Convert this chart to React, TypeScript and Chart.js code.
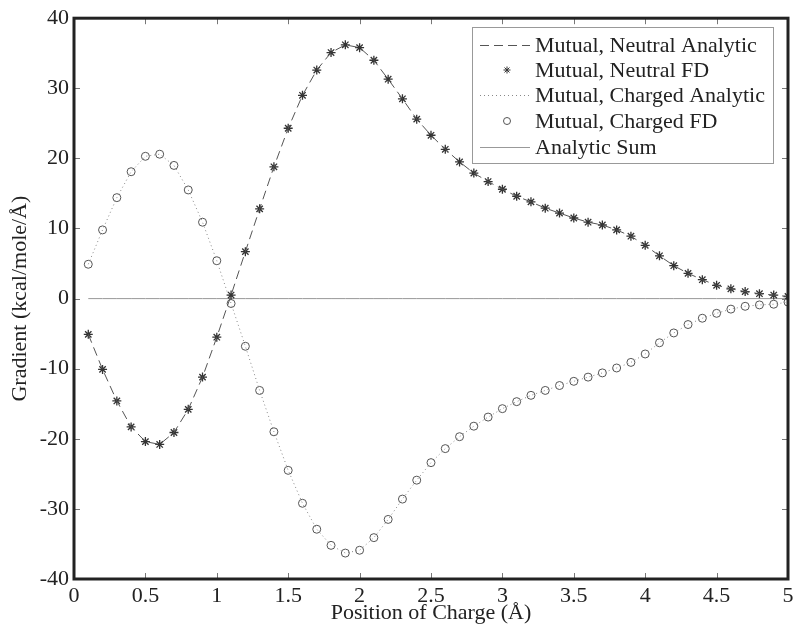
import React, { useEffect, useRef } from "react";
import { Chart, registerables } from "chart.js";

Chart.register(...registerables);

const positions = [
  0.1, 0.2, 0.3, 0.4, 0.5, 0.6, 0.7, 0.8, 0.9, 1.0,
  1.1, 1.2, 1.3, 1.4, 1.5, 1.6, 1.7, 1.8, 1.9, 2.0,
  2.1, 2.2, 2.3, 2.4, 2.5, 2.6, 2.7, 2.8, 2.9, 3.0,
  3.1, 3.2, 3.3, 3.4, 3.5, 3.6, 3.7, 3.8, 3.9, 4.0,
  4.1, 4.2, 4.3, 4.4, 4.5, 4.6, 4.7, 4.8, 4.9, 5.0,
];

const neutralFD = [
  -5.1, -10.1, -14.6, -18.3, -20.4, -20.8, -19.1, -15.8, -11.2, -5.5,
  0.5, 6.7, 12.8, 18.8, 24.3, 29.0, 32.6, 35.1, 36.2, 35.8,
  34.0, 31.3, 28.5, 25.6, 23.3, 21.3, 19.5, 17.9, 16.7, 15.6,
  14.6, 13.8, 12.9, 12.2, 11.5, 10.9, 10.5, 9.8, 8.9, 7.6,
  6.1, 4.7, 3.6, 2.7, 1.9, 1.4, 1.0, 0.7, 0.5, 0.3,
];

const chargedFD = [
  4.9, 9.8, 14.4, 18.1, 20.3, 20.6, 19.0, 15.5, 10.9, 5.4,
  -0.7, -6.8, -13.1, -19.0, -24.5, -29.2, -32.9, -35.2, -36.3, -35.9,
  -34.1, -31.5, -28.6, -25.9, -23.4, -21.4, -19.7, -18.2, -16.9, -15.7,
  -14.7, -13.8, -13.1, -12.4, -11.8, -11.2, -10.6, -9.9, -9.1, -7.9,
  -6.3, -4.9, -3.7, -2.8, -2.1, -1.5, -1.1, -0.9, -0.8, -0.5,
];

const neutralAnalytic = neutralFD;
const chargedAnalytic = chargedFD;
const analyticSum = [
  0, 0, 0, 0, 0, 0, 0, 0, 0, 0,
  0, 0, 0, 0, 0, 0, 0, 0, 0, 0,
  0, 0, 0, 0, 0, 0, 0, 0, 0, 0,
  0, 0, 0, 0, 0, 0, 0, 0, 0, 0,
  0, 0, 0, 0, 0, 0, 0, 0, 0, 0,
];

const seriesLabels = [
  "Mutual, Neutral Analytic",
  "Mutual, Neutral FD",
  "Mutual, Charged Analytic",
  "Mutual, Charged FD",
  "Analytic Sum",
];

const xTitle = "Position of Charge (Å)";
const yTitle = "Gradient (kcal/mole/Å)";

const FONT = "'Liberation Serif', 'DejaVu Serif', serif";
const TEXT = "#222";
const FS = 22;

const toPoints = (ys: number[]) => positions.map((x, i) => ({ x, y: ys[i] }));

const framePlugin = {
  id: "matlabFrame",
  afterDraw(chart: any) {
    const { ctx, chartArea } = chart;
    const { left, right, top, bottom } = chartArea;
    const xs = chart.scales.x;
    const ys = chart.scales.y;
    ctx.save();
    // ticks inward
    ctx.strokeStyle = "#777";
    ctx.lineWidth = 1;
    const tl = 6;
    xs.ticks.forEach((t: any) => {
      const px = Math.round(xs.getPixelForValue(t.value)) + 0.5;
      ctx.beginPath();
      ctx.moveTo(px, bottom);
      ctx.lineTo(px, bottom - tl);
      ctx.moveTo(px, top);
      ctx.lineTo(px, top + tl);
      ctx.stroke();
    });
    ys.ticks.forEach((t: any) => {
      const py = Math.round(ys.getPixelForValue(t.value)) + 0.5;
      ctx.beginPath();
      ctx.moveTo(left, py);
      ctx.lineTo(left + tl, py);
      ctx.moveTo(right, py);
      ctx.lineTo(right - tl, py);
      ctx.stroke();
    });
    // frame
    ctx.strokeStyle = "#222";
    ctx.lineWidth = 3;
    ctx.strokeRect(left, top, right - left, bottom - top);

    // legend
    const bx = 472, by = 27, bw = 301, bh = 136;
    ctx.fillStyle = "#fff";
    ctx.fillRect(bx, by, bw, bh);
    ctx.strokeStyle = "#999";
    ctx.lineWidth = 1;
    ctx.strokeRect(bx + 0.5, by + 0.5, bw, bh);
    const rows = [45, 70, 95, 121, 147];
    const ds = chart.data.datasets;
    ctx.font = `${FS}px ${FONT}`;
    ctx.textBaseline = "middle";
    ctx.textAlign = "left";
    rows.forEach((ry, i) => {
      const d = ds[i];
      if (d.showLine !== false) {
        ctx.save();
        ctx.strokeStyle = d.borderColor;
        ctx.lineWidth = d.borderWidth;
        ctx.setLineDash(d.borderDash || []);
        ctx.beginPath();
        ctx.moveTo(480, ry + 0.5);
        ctx.lineTo(530, ry + 0.5);
        ctx.stroke();
        ctx.restore();
      } else {
        ctx.save();
        ctx.strokeStyle = d.borderColor;
        ctx.lineWidth = 1;
        if (d.pointStyle === "star") {
          const r = 3.5;
          ctx.beginPath();
          for (let k = 0; k < 4; k++) {
            const a = (k * Math.PI) / 4;
            ctx.moveTo(507 - r * Math.cos(a), ry - r * Math.sin(a));
            ctx.lineTo(507 + r * Math.cos(a), ry + r * Math.sin(a));
          }
          ctx.stroke();
        } else {
          ctx.beginPath();
          ctx.arc(507, ry, 3.5, 0, Math.PI * 2);
          ctx.stroke();
        }
        ctx.restore();
      }
      ctx.fillStyle = TEXT;
      ctx.fillText(seriesLabels[i], 535, ry + 1);
    });
    ctx.restore();
  },
};

export default function App() {
  const ref = useRef<HTMLCanvasElement>(null);
  useEffect(() => {
    if (!ref.current) return;
    const chart = new Chart(ref.current, {
      type: "line",
      data: {
        datasets: [
          {
            label: seriesLabels[0],
            data: toPoints(neutralAnalytic),
            borderColor: "#555",
            borderWidth: 1,
            borderDash: [9, 5],
            pointRadius: 0,
            fill: false,
          },
          {
            label: seriesLabels[1],
            data: toPoints(neutralFD),
            showLine: false,
            pointStyle: "star",
            pointRadius: 4.5,
            borderColor: "#333",
            backgroundColor: "#333",
            pointBorderWidth: 1.3,
          },
          {
            label: seriesLabels[2],
            data: toPoints(chargedAnalytic),
            borderColor: "#888",
            borderWidth: 1,
            borderDash: [1, 3],
            pointRadius: 0,
            fill: false,
          },
          {
            label: seriesLabels[3],
            data: toPoints(chargedFD),
            showLine: false,
            pointStyle: "circle",
            pointRadius: 4,
            borderColor: "#555",
            backgroundColor: "rgba(0,0,0,0)",
            pointBorderWidth: 1,
          },
          {
            label: seriesLabels[4],
            data: toPoints(analyticSum),
            borderColor: "#999",
            borderWidth: 1,
            pointRadius: 0,
            fill: false,
          },
        ],
      },
      options: {
        animation: false,
        responsive: false,
        maintainAspectRatio: false,
        layout: { padding: { top: 17, right: 12, left: 0, bottom: 0 } },
        plugins: {
          legend: { display: false },
          tooltip: { enabled: false },
        },
        scales: {
          x: {
            type: "linear",
            min: 0,
            max: 5,
            ticks: {
              stepSize: 0.5,
              padding: 4,
              color: TEXT,
              font: { family: FONT, size: FS },
              callback: (v: any) => String(v),
              maxRotation: 0,
            },
            grid: { display: false, drawTicks: false },
            border: { display: false },
            title: {
              display: true,
              text: xTitle,
              color: TEXT,
              font: { family: FONT, size: FS },
              padding: { top: 0, bottom: 14 },
            },
            afterFit: (s: any) => {
              s.height = 61;
            },
          },
          y: {
            type: "linear",
            min: -40,
            max: 40,
            ticks: {
              stepSize: 10,
              padding: 5,
              color: TEXT,
              font: { family: FONT, size: FS },
              callback: (v: any) => String(v),
            },
            grid: { display: false, drawTicks: false },
            border: { display: false },
            title: {
              display: true,
              text: yTitle,
              color: TEXT,
              font: { family: FONT, size: FS },
              padding: { top: 7, bottom: 0 },
            },
            afterFit: (s: any) => {
              s.width = 74;
            },
          },
        },
      },
      plugins: [framePlugin],
    });
    return () => chart.destroy();
  }, []);
  return (
    <div style={{ position: "fixed", left: 0, top: 0, width: 800, height: 640, background: "#fff" }}>
      <canvas ref={ref} width={800} height={640} />
    </div>
  );
}
